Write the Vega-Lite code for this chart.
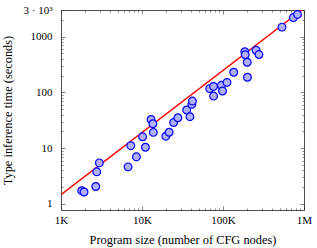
{
  "$schema": "https://vega.github.io/schema/vega-lite/v6.json",
  "width": 243,
  "height": 200,
  "autosize": "none",
  "padding": {"left": 61, "top": 10, "right": 13, "bottom": 38},
  "background": "white",
  "config": {
    "view": {"stroke": null},
    "axis": {
      "labelFont": "Liberation Serif",
      "titleFont": "Liberation Serif",
      "labelFontSize": 11,
      "titleFontSize": 12.4,
      "titleFontWeight": "normal",
      "labelColor": "black",
      "titleColor": "black",
      "domainColor": "#222",
      "domainWidth": 0.8,
      "tickColor": "#333",
      "tickWidth": 0.6,
      "grid": false
    }
  },
  "datasets": {
    "runs": [
      {"nodes": 1803, "time": 1.73},
      {"nodes": 1924, "time": 1.64},
      {"nodes": 2685, "time": 2.06},
      {"nodes": 2762, "time": 3.77},
      {"nodes": 2973, "time": 5.46},
      {"nodes": 6730, "time": 4.63},
      {"nodes": 7274, "time": 11.1},
      {"nodes": 8531, "time": 7.0},
      {"nodes": 10170, "time": 16.0},
      {"nodes": 11010, "time": 10.4},
      {"nodes": 12940, "time": 32.7},
      {"nodes": 13630, "time": 27.4},
      {"nodes": 13800, "time": 19.2},
      {"nodes": 19690, "time": 16.4},
      {"nodes": 21630, "time": 19.3},
      {"nodes": 24590, "time": 28.9},
      {"nodes": 27720, "time": 35.1},
      {"nodes": 35580, "time": 48.3},
      {"nodes": 39080, "time": 36.7},
      {"nodes": 41270, "time": 61.1},
      {"nodes": 41880, "time": 69.9},
      {"nodes": 68500, "time": 117},
      {"nodes": 76400, "time": 128},
      {"nodes": 76600, "time": 85.9},
      {"nodes": 95600, "time": 134},
      {"nodes": 98600, "time": 106},
      {"nodes": 112000, "time": 151},
      {"nodes": 135600, "time": 230},
      {"nodes": 186000, "time": 535},
      {"nodes": 188000, "time": 473},
      {"nodes": 199000, "time": 347},
      {"nodes": 200300, "time": 187},
      {"nodes": 256000, "time": 569},
      {"nodes": 278000, "time": 477},
      {"nodes": 535000, "time": 1479},
      {"nodes": 738000, "time": 2193},
      {"nodes": 832000, "time": 2501}
    ],
    "fit": [
      {"nodes": 1000, "time": 1.47},
      {"nodes": 1000000, "time": 3215}
    ]
  },
  "layer": [
    {
      "data": {"name": "fit"},
      "mark": {"type": "line", "color": "#ff0000", "strokeWidth": 1.4, "clip": true},
      "encoding": {
        "x": {
          "field": "nodes", "type": "quantitative",
          "scale": {"type": "log", "domain": [1000, 1000000], "nice": false},
          "axis": {
            "orient": "top", "title": null, "labels": false,
            "values": [1000,2000,3000,4000,5000,6000,7000,8000,9000,10000,20000,30000,40000,50000,60000,70000,80000,90000,100000,200000,300000,400000,500000,600000,700000,800000,900000,1000000],
            "tickSize": {"condition": {"test": "abs(log(datum.value)/LN10 - round(log(datum.value)/LN10)) < 1e-6", "value": -4}, "value": -2}
          }
        },
        "y": {
          "field": "time", "type": "quantitative",
          "scale": {"type": "log", "domain": [0.78, 3000], "nice": false},
          "axis": {
            "orient": "right", "title": null, "labels": false,
            "values": [1,2,3,4,5,6,7,8,9,10,20,30,40,50,60,70,80,90,100,200,300,400,500,600,700,800,900,1000,2000,3000],
            "tickSize": {"condition": {"test": "datum.value == 3000 || abs(log(datum.value)/LN10 - round(log(datum.value)/LN10)) < 1e-6", "value": -4}, "value": -2}
          }
        }
      }
    },
    {
      "data": {"name": "runs"},
      "mark": {"type": "point", "shape": "circle", "filled": false, "fill": "#b0b0ff", "fillOpacity": 1, "stroke": "#0000ff", "strokeWidth": 1.2, "opacity": 1, "size": 60},
      "encoding": {
        "x": {
          "field": "nodes", "type": "quantitative",
          "scale": {"type": "log", "domain": [1000, 1000000], "nice": false},
          "axis": {
            "orient": "bottom", "title": "Program size (number of CFG nodes)",
            "values": [1000,2000,3000,4000,5000,6000,7000,8000,9000,10000,20000,30000,40000,50000,60000,70000,80000,90000,100000,200000,300000,400000,500000,600000,700000,800000,900000,1000000],
            "labelExpr": "datum.value == 1000 ? '1K' : datum.value == 10000 ? '10K' : datum.value == 100000 ? '100K' : datum.value == 1000000 ? '1M' : ''",
            "labelPadding": 8,
            "labelFlush": false,
            "labelOverlap": false,
            "titlePadding": 6,
            "tickSize": {"condition": {"test": "abs(log(datum.value)/LN10 - round(log(datum.value)/LN10)) < 1e-6", "value": -4}, "value": -2}
          }
        },
        "y": {
          "field": "time", "type": "quantitative",
          "scale": {"type": "log", "domain": [0.78, 3000], "nice": false},
          "axis": {
            "orient": "left", "title": "Type inference time (seconds)",
            "values": [1,2,3,4,5,6,7,8,9,10,20,30,40,50,60,70,80,90,100,200,300,400,500,600,700,800,900,1000,2000,3000],
            "labelExpr": "datum.value == 1 ? '1' : datum.value == 10 ? '10' : datum.value == 100 ? '100' : datum.value == 1000 ? '1000' : datum.value == 3000 ? '3 · 10³' : ''",
            "labelPadding": 13,
            "labelFlush": false,
            "labelOverlap": false,
            "titlePadding": 9,
            "tickSize": {"condition": {"test": "datum.value == 3000 || abs(log(datum.value)/LN10 - round(log(datum.value)/LN10)) < 1e-6", "value": -4}, "value": -2}
          }
        }
      }
    }
  ],
  "resolve": {"axis": {"x": "independent", "y": "independent"}}
}
